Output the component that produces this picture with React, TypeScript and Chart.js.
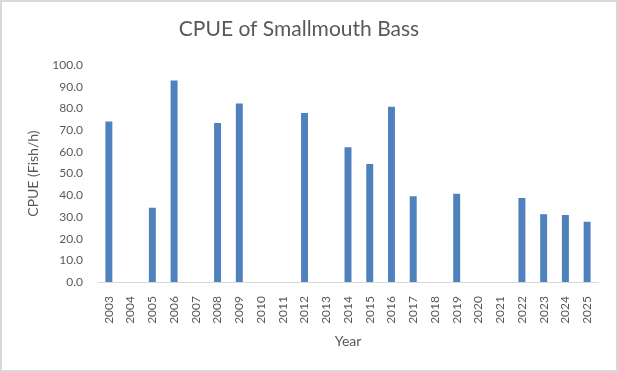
import React, { useEffect, useRef } from "react";
import { Chart, registerables } from "chart.js";

Chart.register(...registerables);

// Survey years on the category axis
const years: string[] = [
  "2003", "2004", "2005", "2006", "2007", "2008", "2009", "2010", "2011", "2012",
  "2013", "2014", "2015", "2016", "2017", "2018", "2019", "2020", "2021", "2022",
  "2023", "2024", "2025",
];

// Catch per unit effort (fish per hour); null = no sampling that year
const cpue: (number | null)[] = [
  74.0, null, 34.2, 92.9, null, 73.3, 82.3, null, null, 77.9,
  null, 62.2, 54.4, 80.8, 39.5, null, 40.7, null, null, 38.7,
  31.2, 30.9, 27.8,
];

const yTicks: number[] = [0, 10, 20, 30, 40, 50, 60, 70, 80, 90, 100];

const FONT = "Lato, 'Liberation Sans', sans-serif";
const TEXT = "#595959";

export default function App() {
  const canvasRef = useRef<HTMLCanvasElement | null>(null);

  useEffect(() => {
    document.body.style.margin = "0";
    const ctx = canvasRef.current;
    if (!ctx) return;
    const chart = new Chart(ctx, {
      type: "bar",
      data: {
        labels: years,
        datasets: [
          {
            label: "CPUE",
            data: cpue,
            backgroundColor: "#4F81BD",
            barPercentage: 0.32,
            categoryPercentage: 1,
          },
        ],
      },
      options: {
        animation: false,
        responsive: false,
        maintainAspectRatio: false,
        layout: { padding: { left: 0, right: 20, top: 0, bottom: 0 } },
        plugins: {
          legend: { display: false },
          tooltip: { enabled: false },
          title: {
            display: true,
            text: "CPUE of Smallmouth Bass",
            color: TEXT,
            font: { family: FONT, size: 21, weight: "normal" },
            padding: { top: 17, bottom: 23 },
          },
        },
        scales: {
          x: {
            grid: { display: false },
            border: { display: true, color: "#d9d9d9", width: 1 },
            ticks: {
              color: TEXT,
              font: { family: FONT, size: 12 },
              maxRotation: 90,
              minRotation: 90,
              padding: 6,
              autoSkip: false,
            },
            title: {
              display: true,
              text: "Year",
              color: TEXT,
              font: { family: FONT, size: 14 },
              padding: { top: 6, bottom: 22 },
            },
            afterFit: (scale: any) => {
              scale.height = 90;
            },
          },
          y: {
            min: 0,
            max: 100,
            afterBuildTicks: (scale: any) => {
              scale.ticks = yTicks.map((v) => ({ value: v }));
            },
            grid: { display: false },
            border: { display: false },
            ticks: {
              color: TEXT,
              font: { family: FONT, size: 12 },
              padding: 7,
              callback: (v: any) => Number(v).toFixed(1),
            },
            title: {
              display: true,
              text: "CPUE (Fish/h)",
              color: TEXT,
              font: { family: FONT, size: 14 },
              padding: { top: 25, bottom: 0 },
            },
            afterFit: (scale: any) => {
              scale.width = 98;
            },
          },
        },
      },
    });
    return () => chart.destroy();
  }, []);

  return (
    <div style={{ position: "absolute", left: 0, top: 0, width: 618, height: 372, background: "#fff" }}>
      <canvas ref={canvasRef} width={618} height={372} style={{ display: "block" }} />
      <div
        style={{
          position: "absolute",
          left: 0,
          top: 0,
          width: 618,
          height: 372,
          boxSizing: "border-box",
          border: "2px solid #d9d9d9",
          pointerEvents: "none",
        }}
      />
    </div>
  );
}
